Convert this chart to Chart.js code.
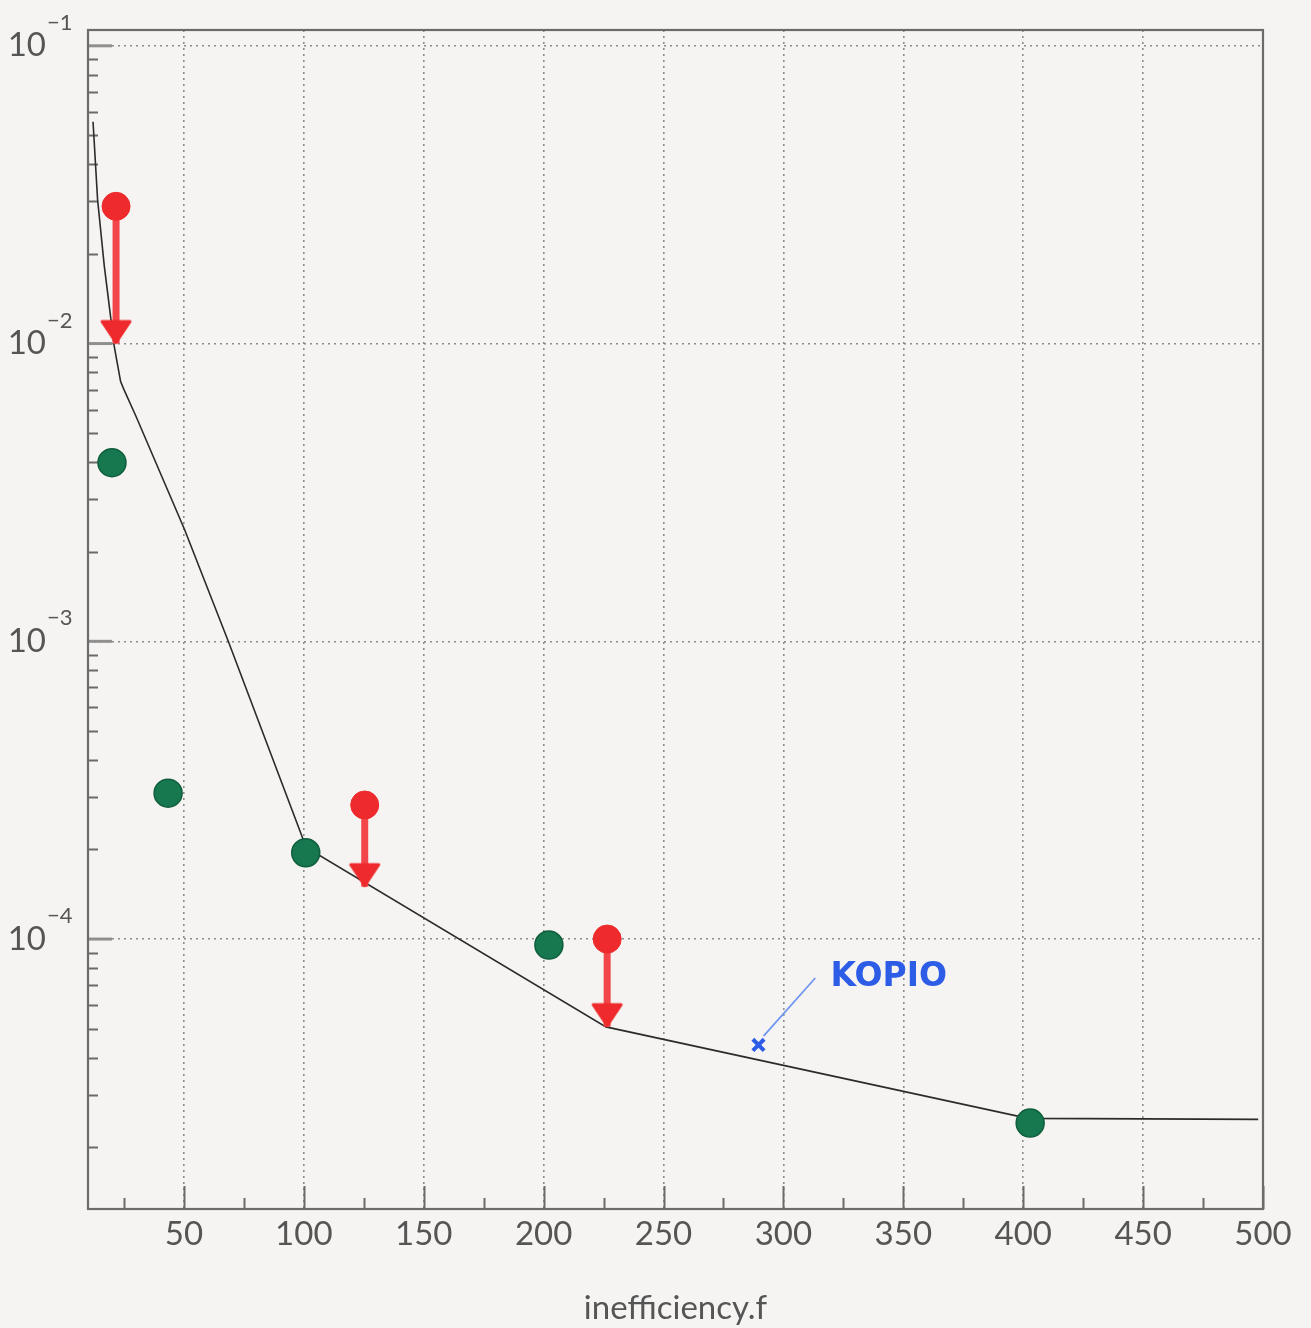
<!DOCTYPE html>
<html>
<head>
<meta charset="utf-8">
<title>inefficiency.f</title>
<script src="https://cdn.jsdelivr.net/npm/chart.js@4.4.0/dist/chart.umd.min.js"></script>
<style>
  html, body { margin: 0; padding: 0; background: #f6f4f2; }
  canvas { display: block; }
</style>
</head>
<body>
<canvas id="chart" width="1311" height="1328"></canvas>
<script>
// ---- data ----
// Solid curve
const curveX = [12.1, 14.0, 16.8, 20.3, 20.75, 22.2, 23.6, 25, 30, 50.3, 68.5, 101, 226, 402, 498];
const curveY = [0.0556, 0.0304, 0.0182, 0.0108, 0.0100, 0.0086, 0.00745, 0.0070, 0.0057, 0.00237, 0.00100, 2.03e-4, 5.07e-5, 2.50e-5, 2.48e-5];

// Measured points (green)
const measX = [20, 43.4, 100.8, 202.2, 402.9];
const measY = [3.98e-3, 3.09e-4, 1.95e-4, 9.55e-5, 2.41e-5];

// Upper limits (red): bar from the limit value down to the arrow tip
const limX   = [21.7, 125.4, 226.5];
const limTop = [0.0289, 2.82e-4, 1.0e-4];
const limTip = [0.0100, 1.50e-4, 5.08e-5];

// KOPIO note
const kopioLabel = 'KOPIO';
const kopioTextX = [319.6];
const kopioTextY = [7.46e-5];
const kopioMarkX = [289.6];
const kopioMarkY = [4.41e-5];
const kopioLeaderX = [313.3, 291.7];
const kopioLeaderY = [7.40e-5, 4.72e-5];

// Axes
const xMin = 10, xMax = 500;
const yMin = 1.24e-5, yMax = 0.113;
const xTickValues  = [50, 100, 150, 200, 250, 300, 350, 400, 450, 500];
const xMinorValues = [25, 75, 125, 175, 225, 275, 325, 375, 425, 475];
const yDecades     = [1e-4, 1e-3, 1e-2, 1e-1];
const yExponents   = ['\u22124', '\u22123', '\u22122', '\u22121'];
const xTitle = 'inefficiency.f';

// ---- styles ----
const INK = '#555555';
const FRAME = '#6b6b6b';
const GRID = '#8c8c8c';
const RED = '#ee2a2c';
const RED_BAR = '#f2464a';
const GREEN = '#17774f';
const BLUE = '#2d5de6';
const BLUE_LIGHT = '#6f97f2';
const FONT = 'Lato, "Open Sans", sans-serif';

const pts = (xs, ys) => xs.map((x, i) => ({ x, y: ys[i] }));

// downward arrowhead whose tip sits at the image centre
function arrowHead(color) {
  const c = document.createElement('canvas');
  c.width = 34; c.height = 52;
  const g = c.getContext('2d');
  g.fillStyle = color; g.strokeStyle = color;
  g.lineJoin = 'round'; g.lineWidth = 3;
  g.beginPath();
  g.moveTo(3, 4); g.lineTo(31, 4); g.lineTo(17, 25); g.closePath();
  g.fill(); g.stroke();
  return c;
}
const headImg = arrowHead(RED);

const datasets = [];

datasets.push({
  type: 'line', label: 'curve', data: pts(curveX, curveY),
  borderColor: '#2b2b2b', borderWidth: 1.6, pointRadius: 0, tension: 0, order: 6
});

limX.forEach((x, i) => {
  datasets.push({
    type: 'line', label: 'limit bar ' + i,
    data: [{ x, y: limTop[i] }, { x, y: limTip[i] }],
    borderColor: RED_BAR, borderWidth: 7, pointRadius: 0, order: 5
  });
});

datasets.push({
  type: 'scatter', label: 'limit heads', data: pts(limX, limTip),
  pointStyle: headImg, pointRadius: 17, order: 4
});

datasets.push({
  type: 'scatter', label: 'limit values', data: pts(limX, limTop),
  backgroundColor: RED, borderColor: RED, pointRadius: 14, pointHoverRadius: 14, order: 3
});

datasets.push({
  type: 'scatter', label: 'measured', data: pts(measX, measY),
  backgroundColor: GREEN, borderColor: '#0f5e3c', borderWidth: 1.5,
  pointRadius: 14, pointHoverRadius: 14, order: 2
});

datasets.push({
  type: 'line', label: 'kopio leader', data: pts(kopioLeaderX, kopioLeaderY),
  borderColor: BLUE_LIGHT, borderWidth: 1.8, pointRadius: 0, tension: 0, order: 1
});

datasets.push({
  type: 'scatter', label: 'kopio', data: pts(kopioMarkX, kopioMarkY),
  pointStyle: 'crossRot', borderColor: BLUE, borderWidth: 4,
  pointRadius: 8, pointHoverRadius: 8, order: 0
});

// frame, inner tick marks, decade labels and note text
const decor = {
  id: 'decor',
  beforeDatasetsDraw(chart) {
    const { ctx, chartArea: a, scales: { x, y } } = chart;
    ctx.save();
    ctx.lineCap = 'butt';
    // minor y ticks (2..9 per decade)
    ctx.strokeStyle = FRAME; ctx.lineWidth = 2;
    for (let e = -5; e <= -1; e++) {
      for (let m = 2; m <= 9; m++) {
        const v = m * Math.pow(10, e);
        if (v < yMin || v > yMax) continue;
        const py = Math.round(y.getPixelForValue(v)) + 0.5;
        ctx.beginPath(); ctx.moveTo(a.left, py); ctx.lineTo(a.left + 10, py); ctx.stroke();
      }
    }
    // decade y ticks
    ctx.strokeStyle = '#8f8f8f'; ctx.lineWidth = 3;
    yDecades.forEach(v => {
      const py = y.getPixelForValue(v);
      ctx.beginPath(); ctx.moveTo(a.left, py); ctx.lineTo(a.left + 24, py); ctx.stroke();
    });
    // x ticks
    ctx.strokeStyle = FRAME; ctx.lineWidth = 2;
    xTickValues.forEach(v => {
      const px = Math.round(x.getPixelForValue(v)) + 0.5;
      ctx.beginPath(); ctx.moveTo(px, a.bottom); ctx.lineTo(px, a.bottom - 23); ctx.stroke();
    });
    xMinorValues.forEach(v => {
      const px = Math.round(x.getPixelForValue(v)) + 0.5;
      ctx.beginPath(); ctx.moveTo(px, a.bottom); ctx.lineTo(px, a.bottom - 11); ctx.stroke();
    });
    // frame
    ctx.strokeStyle = FRAME; ctx.lineWidth = 2.2;
    ctx.strokeRect(a.left, a.top, a.right - a.left, a.bottom - a.top);
    ctx.restore();
  },
  afterDraw(chart) {
    const { ctx, scales: { x, y } } = chart;
    ctx.save();
    ctx.fillStyle = INK;
    yDecades.forEach((v, i) => {
      const py = y.getPixelForValue(v);
      ctx.font = '33px ' + FONT;
      ctx.textAlign = 'right'; ctx.textBaseline = 'middle';
      ctx.fillText('10', 46, py);
      ctx.font = '22px ' + FONT;
      ctx.textAlign = 'left';
      ctx.fillText(yExponents[i], 47, py - 23);
    });
    // note
    ctx.fillStyle = BLUE;
    ctx.font = 'bold 33px "DejaVu Sans", sans-serif';
    ctx.textAlign = 'left'; ctx.textBaseline = 'middle';
    ctx.fillText(kopioLabel, x.getPixelForValue(kopioTextX[0]), y.getPixelForValue(kopioTextY[0]));
    ctx.restore();
  }
};

new Chart(document.getElementById('chart'), {
  data: { datasets },
  options: {
    responsive: false,
    animation: false,
    layout: { padding: { left: 0, top: 30, right: 48, bottom: 0 } },
    plugins: { legend: { display: false }, tooltip: { enabled: false } },
    scales: {
      x: {
        type: 'linear', min: xMin, max: xMax,
        afterBuildTicks: s => { s.ticks = xTickValues.map(v => ({ value: v })); },
        afterFit: s => { s.height = 119; },
        grid: {
          drawTicks: false, lineWidth: 1.6,
          color: c => (c.tick && c.tick.value === xMax) ? 'rgba(0,0,0,0)' : GRID
        },
        border: { display: false, dash: [2, 4] },
        ticks: { color: INK, font: { family: FONT, size: 33 }, padding: 6, maxRotation: 0, autoSkip: false },
        title: { display: true, text: xTitle, color: INK, font: { family: FONT, size: 33 }, padding: { top: 0, bottom: 0 } }
      },
      y: {
        type: 'logarithmic', min: yMin, max: yMax,
        afterBuildTicks: s => { s.ticks = yDecades.map(v => ({ value: v, major: true })); },
        afterFit: s => { s.width = 88; },
        grid: { drawTicks: false, lineWidth: 1.6, color: GRID },
        border: { display: false, dash: [2, 4] },
        ticks: { display: false }
      }
    }
  },
  plugins: [decor]
});
</script>
</body>
</html>
